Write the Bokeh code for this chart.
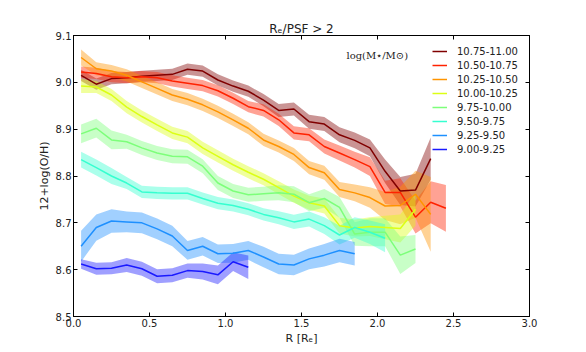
from bokeh.plotting import figure
from bokeh.models import (Range1d, LinearAxis, FixedTicker, NumeralTickFormatter,
                          Legend, LegendItem, Label, Spacer)
from bokeh.layouts import row, column
from bokeh.embed import file_html
from bokeh.resources import INLINE

# ---- data -------------------------------------------------------------
labels = ["10.75-11.00", "10.50-10.75", "10.25-10.50", "10.00-10.25",
          "9.75-10.00", "9.50-9.75", "9.25-9.50", "9.00-9.25"]
colors = ["#800000", "#ff2200", "#ff9400", "#dcff14",
          "#7dff7a", "#36ffd0", "#1e90ff", "#1a1aff"]

r_bins = [0.05, 0.15, 0.25, 0.35, 0.45, 0.55, 0.65, 0.75, 0.85, 0.95,
          1.05, 1.15, 1.25, 1.35, 1.45, 1.55, 1.65, 1.75, 1.85, 1.95,
          2.05, 2.15, 2.25, 2.35, 2.45]

oh_1075 = [9.015, 8.996, 9.008, 9.010, 9.013, 9.015, 9.017, 9.028, 9.024, 9.005,
           8.992, 8.981, 8.962, 8.940, 8.943, 8.916, 8.911, 8.888, 8.876, 8.860,
           8.810, 8.768, 8.770, 8.837]
err_1075 = [0.012] * 12 + [0.013, 0.014, 0.014, 0.015, 0.015, 0.016, 0.017, 0.018,
                           0.025, 0.030, 0.035, 0.045]

oh_1050 = [9.022, 9.019, 9.012, 9.010, 9.012, 9.010, 9.003, 8.998, 8.993, 8.982,
           8.966, 8.948, 8.940, 8.920, 8.892, 8.888, 8.863, 8.849, 8.835, 8.820,
           8.765, 8.765, 8.712, 8.744, 8.731]
err_1050 = [0.012] * 12 + [0.013, 0.013, 0.014, 0.014, 0.015, 0.016, 0.017, 0.020,
                           0.025, 0.030, 0.035, 0.045, 0.050]

oh_1025 = [9.053, 9.029, 9.024, 9.015, 9.001, 8.987, 8.973, 8.964, 8.952, 8.937,
           8.920, 8.902, 8.877, 8.863, 8.846, 8.818, 8.807, 8.771, 8.764, 8.754,
           8.736, 8.737, 8.761, 8.718]
err_1025 = [0.017, 0.014] + [0.013] * 10 + [0.013, 0.013, 0.014, 0.014, 0.015, 0.016,
                                            0.018, 0.022, 0.030, 0.040, 0.050, 0.080]

oh_1000 = [8.992, 8.990, 8.973, 8.947, 8.927, 8.909, 8.892, 8.883, 8.860, 8.842,
           8.824, 8.808, 8.793, 8.775, 8.757, 8.743, 8.736, 8.694, 8.689, 8.692,
           8.690, 8.688, 8.729]
err_1000 = [0.015] + [0.013] * 11 + [0.013, 0.014, 0.014, 0.015, 0.016, 0.017,
                                     0.018, 0.020, 0.025, 0.030, 0.035]

oh_975 = [8.890, 8.902, 8.877, 8.873, 8.860, 8.849, 8.842, 8.841, 8.821, 8.785,
          8.768, 8.760, 8.762, 8.764, 8.761, 8.743, 8.752, 8.733, 8.676, 8.680,
          8.680, 8.631, 8.644]
err_975 = [0.020] * 3 + [0.015] * 9 + [0.015, 0.016, 0.017, 0.018, 0.020, 0.022,
                                       0.025, 0.030, 0.030, 0.040, 0.030]

oh_950 = [8.835, 8.818, 8.800, 8.785, 8.766, 8.764, 8.763, 8.763, 8.752, 8.742,
          8.737, 8.729, 8.718, 8.711, 8.702, 8.708, 8.694, 8.674, 8.690, 8.680,
          8.667]
err_950 = [0.017] * 3 + [0.013] * 10 + [0.014, 0.015, 0.016, 0.018, 0.020, 0.022,
                                        0.025, 0.030]

oh_925 = [8.650, 8.690, 8.704, 8.702, 8.700, 8.687, 8.672, 8.641, 8.650, 8.634,
          8.635, 8.641, 8.627, 8.612, 8.610, 8.623, 8.631, 8.641, 8.634]
err_925 = [0.033, 0.028, 0.025, 0.022, 0.022, 0.022, 0.022, 0.020, 0.020, 0.020,
           0.020, 0.020, 0.022, 0.022, 0.022, 0.022, 0.024, 0.025, 0.025]

oh_900 = [8.612, 8.602, 8.603, 8.610, 8.602, 8.586, 8.588, 8.598, 8.596, 8.589,
          8.617, 8.605]
err_900 = [0.010, 0.013, 0.013, 0.015, 0.015, 0.015, 0.015, 0.015, 0.017, 0.020,
           0.020, 0.025]

series = [oh_1075, oh_1050, oh_1025, oh_1000, oh_975, oh_950, oh_925, oh_900]
errors = [err_1075, err_1050, err_1025, err_1000, err_975, err_950, err_925, err_900]

x_ticks = [0.0, 0.5, 1.0, 1.5, 2.0, 2.5, 3.0]
y_ticks = [8.5, 8.6, 8.7, 8.8, 8.9, 9.0, 9.1]

title_text = "R\u2091/PSF > 2"
legend_title = "log(M\u22c6/M\u2299)"

# ---- figure -----------------------------------------------------------
FONT = "DejaVu Sans"
LEFT_PAD, TOP_PAD = 32, 19
p = figure(width=546, height=328, output_backend="svg", toolbar_location=None,
           x_range=Range1d(0, 3), y_range=Range1d(8.5, 9.1),
           min_border_left=41, min_border_right=49, min_border_top=16,
           min_border_bottom=30, x_axis_location=None, y_axis_location=None,
           title=title_text)
p.grid.visible = False
p.outline_line_color = "black"
p.outline_line_width = 1
p.background_fill_color = "white"
p.border_fill_color = "white"
p.title.align = "center"
p.title.text_font = FONT
p.title.text_font_size = "12px"
p.title.text_font_style = "normal"
p.title.text_color = "#222222"
p.title.standoff = 0


def style_axis(ax, show_labels):
    ax.major_tick_in = 4
    ax.major_tick_out = 0
    ax.minor_tick_in = 0
    ax.minor_tick_out = 0
    ax.minor_tick_line_color = None
    ax.axis_line_color = "black"
    ax.major_tick_line_color = "black"
    if show_labels:
        ax.major_label_text_font = FONT
        ax.major_label_text_font_size = "10px"
        ax.major_label_text_color = "#222222"
        ax.major_label_standoff = 2
        ax.axis_label_text_font = FONT
        ax.axis_label_text_font_size = "11px"
        ax.axis_label_text_font_style = "normal"
        ax.axis_label_text_color = "#222222"
        ax.axis_label_standoff = 2
    else:
        ax.major_label_text_font_size = "0px"
        ax.major_label_standoff = 0
        ax.major_label_text_alpha = 0


xb = LinearAxis(ticker=FixedTicker(ticks=x_ticks), formatter=NumeralTickFormatter(format="0.0"),
                axis_label="R [R\u2091]")
style_axis(xb, True)
p.add_layout(xb, "below")
yl = LinearAxis(ticker=FixedTicker(ticks=y_ticks), formatter=NumeralTickFormatter(format="0.0"),
                axis_label="12+log(O/H)")
style_axis(yl, True)
p.add_layout(yl, "left")
xt = LinearAxis(ticker=FixedTicker(ticks=x_ticks))
style_axis(xt, False)
p.add_layout(xt, "above")
yr = LinearAxis(ticker=FixedTicker(ticks=y_ticks))
style_axis(yr, False)
p.add_layout(yr, "right")

items = []
for lab, col, y, e in zip(labels, colors, series, errors):
    xs = r_bins[:len(y)]
    lo = [a - b for a, b in zip(y, e)]
    hi = [a + b for a, b in zip(y, e)]
    p.varea(x=xs, y1=lo, y2=hi, fill_color=col, fill_alpha=0.42)
for lab, col, y, e in zip(labels, colors, series, errors):
    xs = r_bins[:len(y)]
    r = p.line(xs, y, line_color=col, line_width=1.5)
    items.append(LegendItem(label=lab, renderers=[r]))

legend = Legend(items=items, location=(359, 160), padding=0, margin=0,
                spacing=0, glyph_width=15, glyph_height=14, label_height=14,
                label_standoff=10, label_text_font=FONT, label_text_font_size="10px",
                label_text_color="#222222",
                border_line_color=None, background_fill_alpha=0)
p.add_layout(legend, "center")

p.add_layout(Label(x=1.796, y=9.058, text=legend_title, text_font="DejaVu Serif",
                   text_font_size="10px", text_baseline="middle", text_color="#222222"))

layout = column(Spacer(height=TOP_PAD), row(Spacer(width=LEFT_PAD), p))
open("out.html", "w").write(file_html(layout, INLINE))
